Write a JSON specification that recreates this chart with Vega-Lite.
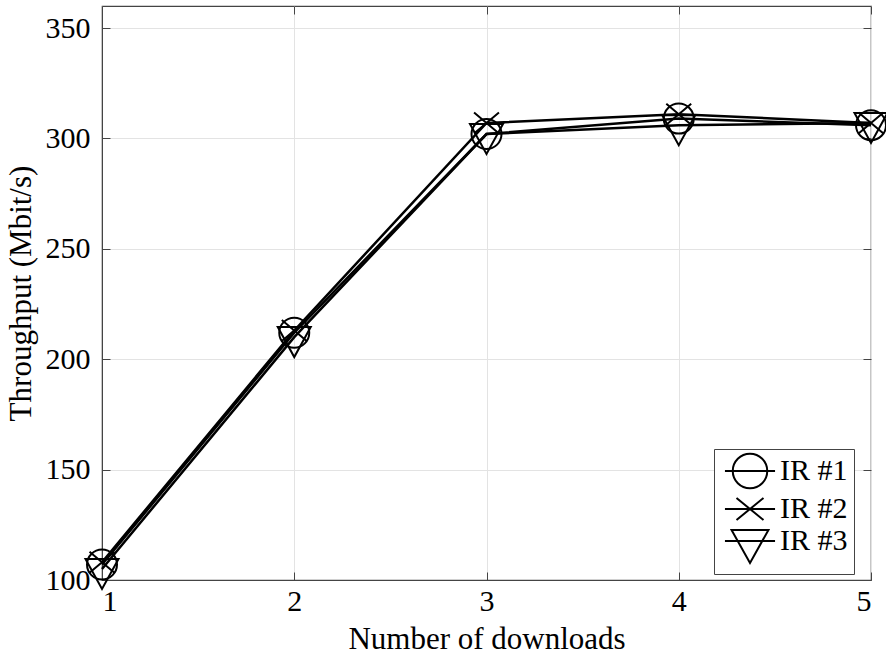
{
  "$schema": "https://vega.github.io/schema/vega-lite/v6.json",
  "width": 769,
  "height": 574,
  "autosize": {"type": "none"},
  "padding": {"left": 102, "top": 6, "right": 15, "bottom": 77},
  "background": "white",
  "config": {
    "font": "Liberation Serif, Times New Roman, serif",
    "view": {"stroke": "#444", "strokeWidth": 1.2},
    "legend": {"rowPadding": -6},
    "axis": {
      "labelFont": "Liberation Serif, Times New Roman, serif",
      "titleFont": "Liberation Serif, Times New Roman, serif",
      "labelFontSize": 30,
      "titleFontSize": 31,
      "labelColor": "black",
      "titleColor": "black",
      "titleFontWeight": "normal",
      "domainColor": "#444",
      "tickColor": "#444",
      "gridColor": "#e3e3e3",
      "gridWidth": 1
    }
  },
  "data": {
    "values": [
      {"n": 1, "series": "IR #1", "throughput": 107},
      {"n": 2, "series": "IR #1", "throughput": 212},
      {"n": 3, "series": "IR #1", "throughput": 302},
      {"n": 4, "series": "IR #1", "throughput": 309},
      {"n": 5, "series": "IR #1", "throughput": 306},
      {"n": 1, "series": "IR #2", "throughput": 108},
      {"n": 2, "series": "IR #2", "throughput": 213},
      {"n": 3, "series": "IR #2", "throughput": 307},
      {"n": 4, "series": "IR #2", "throughput": 311},
      {"n": 5, "series": "IR #2", "throughput": 307},
      {"n": 1, "series": "IR #3", "throughput": 105},
      {"n": 2, "series": "IR #3", "throughput": 210},
      {"n": 3, "series": "IR #3", "throughput": 302},
      {"n": 4, "series": "IR #3", "throughput": 306},
      {"n": 5, "series": "IR #3", "throughput": 307}
    ]
  },
  "layer": [
    {
      "mark": {"type": "line", "color": "black", "strokeWidth": 2.5},
      "encoding": {
        "x": {
          "field": "n", "type": "quantitative",
          "scale": {"domain": [1, 5], "nice": false},
          "axis": {"values": [1, 2, 3, 4, 5], "title": "Number of downloads", "tickSize": -8, "labelPadding": 14, "titlePadding": 8, "grid": true, "format": "d"}
        },
        "y": {
          "field": "throughput", "type": "quantitative",
          "scale": {"domain": [100, 360], "nice": false, "zero": false},
          "axis": {"values": [100, 150, 200, 250, 300, 350], "title": "Throughput (Mbit/s)", "tickSize": -8, "labelPadding": 20, "titlePadding": 8, "grid": true}
        },
        "detail": {"field": "series"}
      }
    },
    {
      "mark": {"type": "point", "filled": false, "stroke": "black", "strokeWidth": 2, "size": 900, "opacity": 1},
      "encoding": {
        "x": {"field": "n", "type": "quantitative", "axis": null},
        "y": {"field": "throughput", "type": "quantitative", "axis": null},
        "shape": {
          "field": "series", "type": "nominal",
          "scale": {"domain": ["IR #1", "IR #2", "IR #3"], "range": [
            "M-1,0A1,1 0 1,0 1,0A1,1 0 1,0 -1,0",
            "M-0.83,-0.7L0.83,0.7M-0.83,0.7L0.83,-0.7",
            "M-1.1,-0.67L1.1,-0.67L0,1.33Z"
          ]},
          "legend": null
        }
      }
    },
    {
      "mark": {"type": "point", "filled": false, "stroke": "black", "strokeWidth": 2, "size": 900, "opacity": 0},
      "encoding": {
        "x": {"field": "n", "type": "quantitative", "axis": null},
        "y": {"field": "throughput", "type": "quantitative", "axis": null},
        "shape": {
          "field": "series", "type": "nominal",
          "scale": {"domain": ["IR #1", "IR #2", "IR #3"], "range": [
            "M-1.67,0L1.67,0M-1.15,0A1.15,1.15 0 1,0 1.15,0A1.15,1.15 0 1,0 -1.15,0",
            "M-1.67,0L1.67,0M-0.9,-0.74L0.9,0.74M-0.9,0.74L0.9,-0.74",
            "M-1.67,0L1.67,0M-1.23,-0.74L1.23,-0.74L0,1.47Z"
          ]},
          "legend": {
            "title": null,
            "orient": "none",
            "legendX": 612,
            "legendY": 443,
            "symbolSize": 900,
            "symbolOpacity": 1,
            "symbolStrokeColor": "black",
            "symbolStrokeWidth": 2,
            "symbolFillColor": "transparent",
            "symbolOffset": 14,
            "labelFont": "Liberation Serif, Times New Roman, serif",
            "labelFontSize": 30,
            "labelColor": "black",
            "labelOffset": 14,
            "strokeColor": "#444",
            "fillColor": "white",
            "padding": 6,
            "rowPadding": -6
          }
        }
      }
    },
    {
      "mark": {"type": "point", "opacity": 0},
      "encoding": {
        "x": {"field": "n", "type": "quantitative",
          "axis": {"orient": "top", "values": [1, 2, 3, 4, 5], "labels": false, "title": null, "grid": false, "tickSize": -8, "domain": false}},
        "y": {"field": "throughput", "type": "quantitative",
          "axis": {"orient": "right", "values": [100, 150, 200, 250, 300, 350], "labels": false, "title": null, "grid": false, "tickSize": -8, "domain": false}}
      }
    }
  ],
  "resolve": {
    "scale": {"shape": "independent"},
    "legend": {"shape": "independent"},
    "axis": {"x": "independent", "y": "independent"}
  }
}
